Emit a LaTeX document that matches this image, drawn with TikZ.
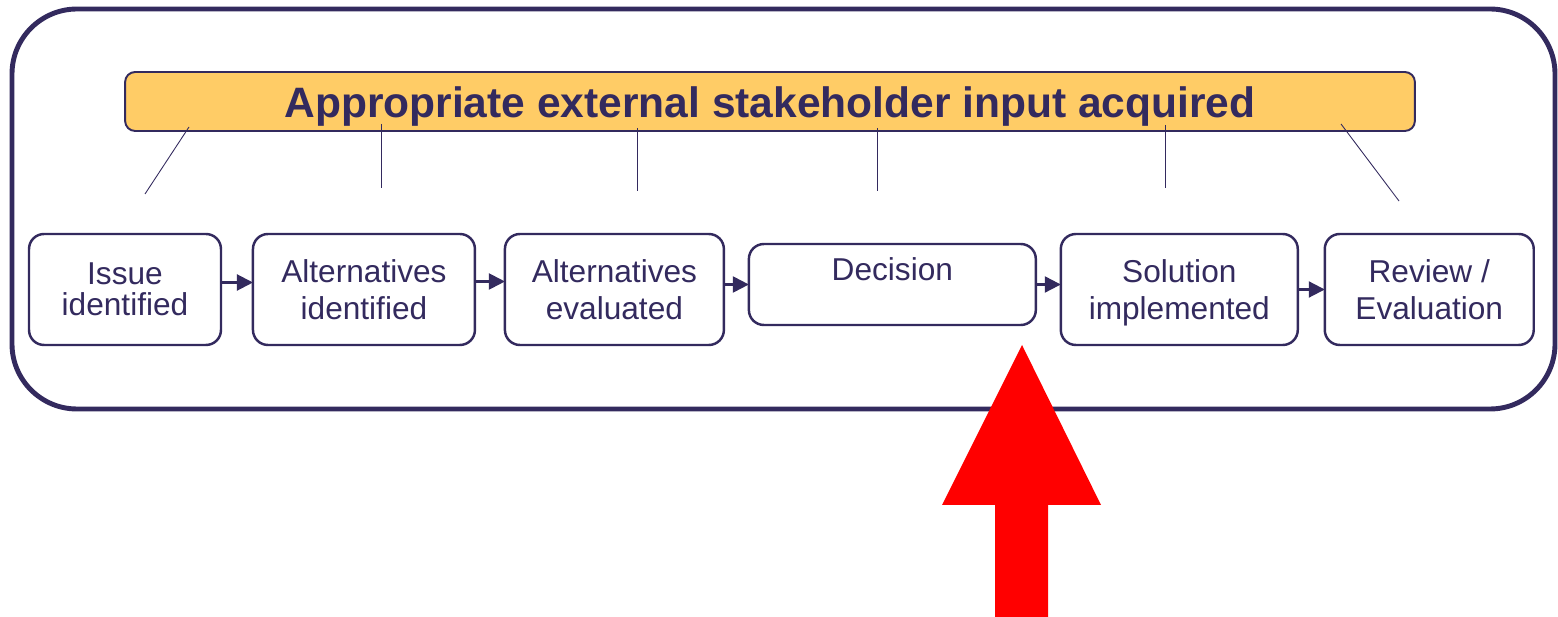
\documentclass[tikz,border=0pt]{standalone}
\usepackage{fontspec}
\setmainfont{Liberation Sans}
\usepackage{tikz}
\usetikzlibrary{arrows.meta,positioning}
\definecolor{ink}{RGB}{51,42,94}
\definecolor{gold}{RGB}{255,204,102}

\begin{document}
\begin{tikzpicture}[x=0.02cm, y=-0.02cm]
    % Define styles
    \tikzstyle{stage} = [rectangle, draw=ink, line width=1.4pt, rounded corners=0.3cm, minimum height=2.22cm, inner sep=0pt, outer sep=0pt, align=center, text=ink, font=\fontsize{18}{21}\selectfont]
    \tikzstyle{banner} = [rectangle, draw=ink, fill=gold, line width=1.1pt, rounded corners=0.2cm, minimum width=25.8cm, minimum height=1.18cm, text height=0.7cm, text depth=0.04cm, inner sep=0pt, text=ink, font=\fontsize{24.2}{29}\selectfont\bfseries]
    \tikzstyle{flow} = [-{Triangle[length=0.32cm,width=0.32cm]}, draw=ink, fill=ink, line width=1.2pt]
    \tikzstyle{tick} = [draw=ink, line width=0.5pt]

    \useasboundingbox (0,0) rectangle (1558,617);

    % Outer frame
    \draw[ink, line width=2.8pt, rounded corners=1.3cm] (12,9) rectangle (1555,409);

    % Banner on top
    \node[banner] (input) at (770,101.5) {Appropriate external stakeholder input acquired};

    % Lines hanging from the banner
    \foreach \i/\x/\y/\u/\v in {1/189/127/145/194, 2/381/124/381/188, 3/637/128/637/191,
                                4/877/128/877/191, 5/1165/125/1165/188, 6/1341/124/1399/201} {
        \coordinate (top\i) at (\x,\y);
        \coordinate (foot\i) at (\u,\v);
        \draw[tick] (top\i) -- (foot\i);
    }

    % Process stages
    \node[stage, minimum width=3.84cm] (issue) at (125,289.5) {Issue\\[-0.12cm]identified};
    \node[stage, minimum width=4.44cm, right=0.64cm of issue] (altid) {Alternatives\\identified};
    \node[stage, minimum width=4.38cm, right=0.6cm of altid] (altev) {Alternatives\\evaluated};
    \node[stage, minimum width=5.74cm, minimum height=1.62cm, right=0.5cm of altev, yshift=0.1cm] (decision) {Decision\\[-0.1cm]\mbox{}};
    \node[stage, minimum width=4.74cm, right=0.5cm of decision, yshift=-0.1cm, text depth=0pt] (solution) {Solution\\implemented};
    \node[stage, minimum width=4.18cm, right=0.54cm of solution] (review) {Review /\\Evaluation};

    % Flow between stages
    \draw[flow] ([yshift=0.14cm]issue.east) -- ([yshift=0.14cm]altid.west);
    \draw[flow] ([yshift=0.16cm]altid.east) -- ([yshift=0.16cm]altev.west);
    \draw[flow] (altev.east |- decision.west) -- (decision.west);
    \draw[flow] (decision.east) -- (decision.east -| solution.west);
    \draw[flow] (solution.east) -- (review.west);

    % Big red arrow
    \fill[red] (1022,345) -- (1101,505) -- (1048,505) -- (1048,617) -- (995,617) -- (995,505) -- (942,505) -- cycle;
\end{tikzpicture}
\end{document}
